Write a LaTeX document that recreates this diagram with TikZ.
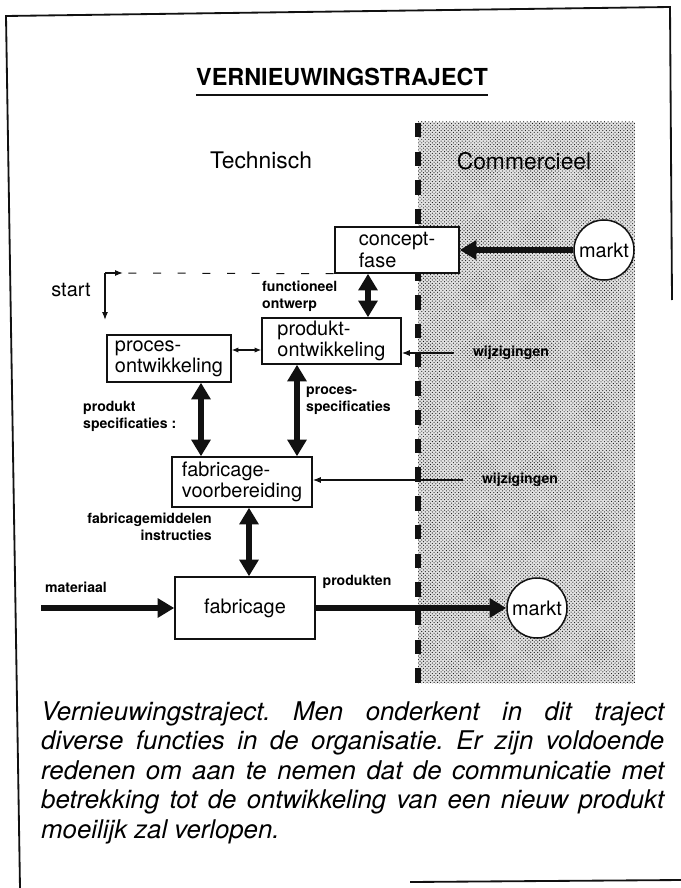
\documentclass[tikz,border=0pt]{standalone}
\usepackage{fontspec}
\setmainfont{TeX Gyre Heros}
\definecolor{inktZwart}{HTML}{111111}
\definecolor{papierWit}{HTML}{FFFFFF}
\definecolor{rasterGrijs}{HTML}{E2E2E2}
\usetikzlibrary{
	arrows.meta,
	positioning,
	patterns
}
\tikzset{
	blok/.style={
		draw=inktZwart,
		line width=0.45mm,
		fill=papierWit,
		align=left,
		inner sep=0pt,
		font=\fontsize{17}{18}\selectfont
	},
	marktbol/.style={
		circle,
		draw=inktZwart,
		line width=0.45mm,
		fill=papierWit,
		minimum size=18mm,
		inner sep=0pt,
		font=\fontsize{17}{18}\selectfont
	},
	kolomkop/.style={
		inner sep=0pt,
		font=\fontsize{19.5}{22}\selectfont
	},
	kleintje/.style={
		align=left,
		inner sep=0pt,
		font=\fontsize{12}{14.5}\selectfont\bfseries
	},
	pijlDik/.style={
		-{Triangle[length=5mm,width=5.6mm]},
		line width=2mm,
		inktZwart
	},
	pijlDubbel/.style={
		{Triangle[length=5mm,width=5.6mm]}-{Triangle[length=5mm,width=5.6mm]},
		line width=1.9mm,
		inktZwart
	},
	pijlDun/.style={
		-{Latex[length=2.4mm,width=1.8mm]},
		line width=0.35mm,
		inktZwart
	},
	pijlDunDubbel/.style={
		{Latex[length=2mm,width=1.6mm]}-{Latex[length=2mm,width=1.6mm]},
		line width=0.35mm,
		inktZwart
	},
	stippel/.style={
		line width=0.3mm,
		dash pattern=on 2.4mm off 5mm,
		inktZwart
	},
	grens/.style={
		line width=1.8mm,
		dash pattern=on 4.35mm off 4.26mm,
		inktZwart
	}
}

\begin{document}
\begin{tikzpicture}[x=0.3mm, y=-0.3mm]
		\useasboundingbox (0,0) rectangle (681,888);
		\draw[line width=0.55mm, inktZwart] (20,888) -- (6,16) -- (670,7) -- (672,300);
		\draw[line width=0.55mm, inktZwart] (410,882) -- (681,880);

		\node[inner sep=0pt, font=\fontsize{20}{22}\selectfont\bfseries] (titel) at (342,77) {VERNIEUWINGSTRAJECT};
		\draw[line width=0.45mm, inktZwart] ([yshift=-2.85mm]titel.base west) -- ([yshift=-2.85mm]titel.base east);

		\fill[rasterGrijs] (418,122) rectangle (635,683);
		\fill[pattern=crosshatch dots, pattern color=inktZwart] (418,122) rectangle (635,683);
		\draw[grens] (418,123) -- (418,683);

		\node[kolomkop] (technisch) at (261,160) {Technisch};
		\node[kolomkop] (commercieel) at (524,161) {Commercieel};

		\node[blok, minimum width=37.2mm, minimum height=13.8mm] (conceptfase) at (397,250) {concept-\\fase};
		\node[blok, minimum width=41.7mm, minimum height=13.8mm] (produktontw) at (331.5,341) {produkt-\\ontwikkeling};
		\node[blok, minimum width=37.2mm, minimum height=14.1mm] (procesontw) at (169,358.5) {proces-\\ontwikkeling};
		\node[blok, minimum width=42mm, minimum height=15mm] (fabrvoorb) at (242,482) {fabricage-\\voorbereiding};
		\node[blok, minimum width=42mm, minimum height=18.6mm] (fabricage) at (245,608) {fabricage};

		\node[marktbol] (marktboven) at (604,250) {markt};
		\node[marktbol] (marktonder) at (537,608) {markt};

		\node[kolomkop, font=\fontsize{17}{18}\selectfont] (start) at (71,290) {start};
		\coordinate (starthoek) at (105,273);
		\coordinate (startneer) at (105,320);
		\draw[pijlDun] (starthoek) -- ++(18,0);
		\draw[pijlDun] (starthoek) -- (startneer);
		\draw[stippel] ([xshift=7mm]starthoek) -- (conceptfase.south west);

		\draw[pijlDik] (marktboven.west) -- (conceptfase.east);
		\draw[pijlDubbel] ([xshift=-8.7mm]conceptfase.south) -- ([xshift=-8.7mm]conceptfase.south |- produktontw.north);
		\node[kleintje, anchor=west] (functioneel) at (262,296) {functioneel\\ontwerp};

		\draw[pijlDunDubbel] ([yshift=2.55mm]procesontw.east) -- ([yshift=2.55mm]procesontw.east -| produktontw.west);

		\node[kleintje] (wijzigingen1) at (511,353) {wijzigingen};
		\draw[pijlDun] ([xshift=-5.5mm]wijzigingen1.west) -- (wijzigingen1.west -| produktontw.east);

		\draw[pijlDubbel] ([xshift=9.6mm]procesontw.south) -- ([xshift=9.6mm]procesontw.south |- fabrvoorb.north);
		\draw[pijlDubbel] ([xshift=-10.35mm]produktontw.south) -- ([xshift=-10.35mm]produktontw.south |- fabrvoorb.north);
		\node[kleintje, anchor=west] (produktspec) at (83,416) {produkt\\specificaties :};
		\node[kleintje, anchor=west] (processpec) at (306,401) {proces-\\specificaties};

		\node[kleintje] (wijzigingen2) at (520,480) {wijzigingen};
		\draw[pijlDun] ([xshift=-5.5mm]wijzigingen2.west) -- (wijzigingen2.west -| fabrvoorb.east);

		\draw[pijlDubbel] ([xshift=2.1mm]fabrvoorb.south) -- ([xshift=2.1mm]fabrvoorb.south |- fabricage.north);
		\node[kleintje, align=right, anchor=east] (middelen) at (212,527) {fabricagemiddelen\\instructies};

		\coordinate (materiaalbegin) at (41,608);
		\draw[pijlDik] (materiaalbegin) -- (fabricage.west);
		\node[kleintje] (materiaal) at (76,587) {materiaal};
		\draw[pijlDik] (fabricage.east) -- (marktonder.west);
		\node[kleintje] (produkten) at (357,582) {produkten};

		\node[anchor=north west, inner sep=0pt, text width=186.9mm, align=justify, font=\fontsize{22}{25.2}\selectfont\itshape\frenchspacing] (onderschrift) at (41,701) {Vernieuwingstraject. Men onderkent in dit traject\linebreak diverse functies in de organisatie. Er zijn voldoende\linebreak redenen om aan te nemen dat de communicatie met\linebreak betrekking tot de ontwikkeling van een nieuw produkt\linebreak moeilijk zal verlopen.};
	\end{tikzpicture}
\end{document}
